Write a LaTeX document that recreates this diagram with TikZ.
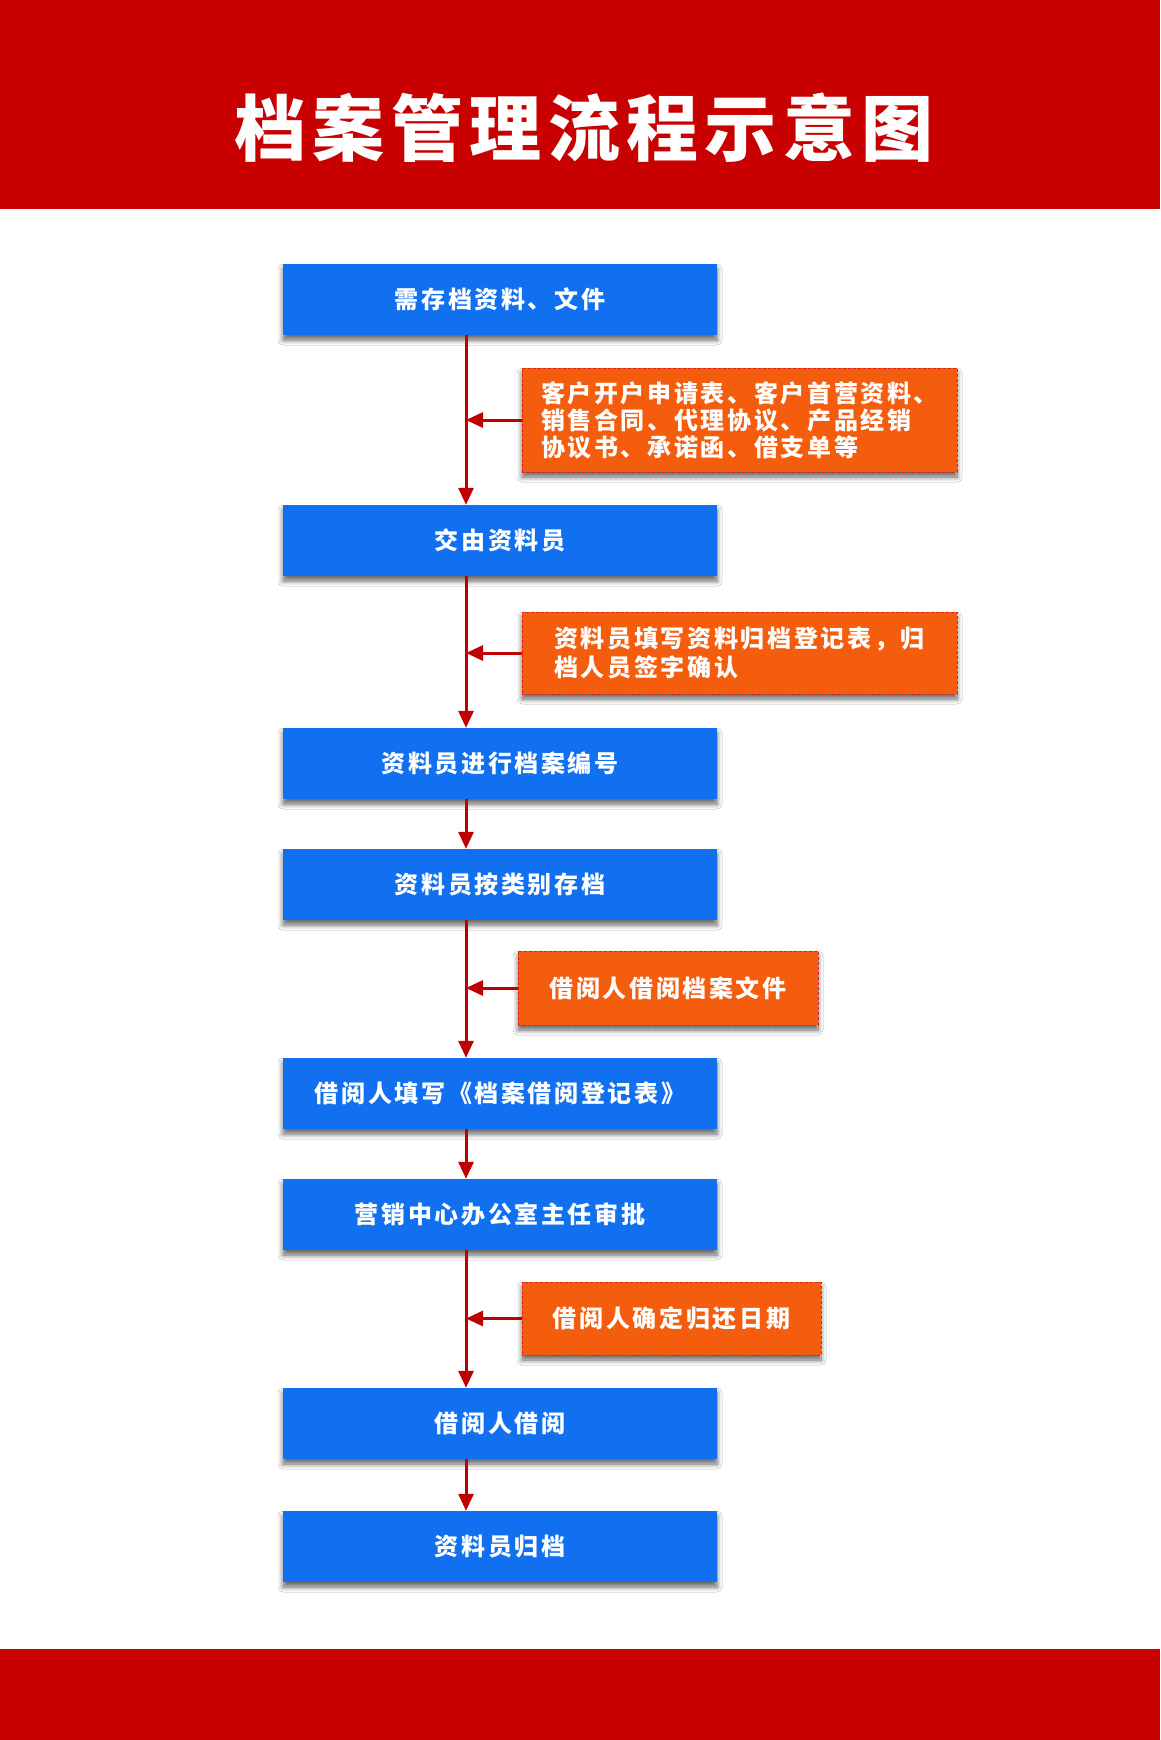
\documentclass[tikz,border=0pt]{standalone}
\usepackage{fontspec}
\setmainfont{Noto Sans CJK SC}
\newfontfamily\titlefont{Noto Sans CJK SC}[LetterSpace=9]
\newfontfamily\boxfont{Noto Sans CJK SC}[LetterSpace=11]
\usetikzlibrary{arrows.meta,shadows.blur}
\definecolor{bandred}{HTML}{C80000}
\definecolor{arrowred}{HTML}{C00000}
\definecolor{boxblue}{HTML}{1070F0}
\definecolor{boxorange}{HTML}{F55D0E}
\definecolor{borderred}{HTML}{E02020}
\tikzset{
  softshadow/.style={blur shadow={shadow blur steps=6, shadow xshift=0pt, shadow yshift=-5pt, shadow blur radius=5pt, shadow opacity=60}},
  bluebox/.style={fill=boxblue, minimum width=434pt, minimum height=71pt, inner sep=0pt,
    text=white, font=\boxfont\bfseries\fontsize{24}{27}\selectfont, softshadow},
  notebox/.style={fill=boxorange, draw=borderred, densely dashed, line width=1pt,
    inner sep=0pt, text=white, align=left, softshadow},
  arr/.style={draw=arrowred, line width=3pt, -{Triangle[width=15pt,length=17pt]}},
}
\begin{document}
\begin{tikzpicture}[x=1pt,y=-1pt]
\useasboundingbox (0,0) rectangle (1160,1740);
\fill[white] (0,0) rectangle (1160,1740);
\fill[bandred] (0,0) rectangle (1160,209);
\fill[bandred] (0,1649) rectangle (1160,1740);
\node[text=white, font=\titlefont\bfseries\fontsize{72}{80}\selectfont] (title) at (584,128) {档案管理流程示意图};

\coordinate (ax) at (466,0);

\node[bluebox] (b1) at (500,299.5) {需存档资料、文件};
\node[bluebox] (b2) at (500,540.5) {交由资料员};
\node[bluebox] (b3) at (500,763.5) {资料员进行档案编号};
\node[bluebox] (b4) at (500,884.5) {资料员按类别存档};
\node[bluebox] (b5) at (500,1093.5) {借阅人填写《档案借阅登记表》};
\node[bluebox] (b6) at (500,1214.5) {营销中心办公室主任审批};
\node[bluebox] (b7) at (500,1423.5) {借阅人借阅};
\node[bluebox] (b8) at (500,1546.5) {资料员归档};

\node[notebox, minimum width=435pt, minimum height=104pt,
  font=\boxfont\bfseries\fontsize{24}{27}\selectfont] (o1) at (739.5,420)
  {客户开户申请表、客户首营资料、\\销售合同、代理协议、产品经销\\协议书、承诺函、借支单等};
\node[notebox, minimum width=435pt, minimum height=82pt,
  font=\boxfont\bfseries\fontsize{24}{29}\selectfont] (o2) at (739.5,653)
  {资料员填写资料归档登记表，归\\档人员签字确认};
\node[notebox, minimum width=300pt, minimum height=74pt,
  font=\boxfont\bfseries\fontsize{24}{27}\selectfont] (o3) at (668,988)
  {借阅人借阅档案文件};
\node[notebox, minimum width=299pt, minimum height=73pt,
  font=\boxfont\bfseries\fontsize{24}{27}\selectfont] (o4) at (671.5,1318.5)
  {借阅人确定归还日期};

\draw[arr] (b1.south -| ax) -- (b2.north -| ax);
\draw[arr] (b2.south -| ax) -- (b3.north -| ax);
\draw[arr] (b3.south -| ax) -- (b4.north -| ax);
\draw[arr] (b4.south -| ax) -- (b5.north -| ax);
\draw[arr] (b5.south -| ax) -- (b6.north -| ax);
\draw[arr] (b6.south -| ax) -- (b7.north -| ax);
\draw[arr] (b7.south -| ax) -- (b8.north -| ax);

\draw[arr] (o1.west) -- (o1.west -| ax);
\draw[arr] (o2.west) -- (o2.west -| ax);
\draw[arr] (o3.west) -- (o3.west -| ax);
\draw[arr] (o4.west) -- (o4.west -| ax);
\end{tikzpicture}
\end{document}
